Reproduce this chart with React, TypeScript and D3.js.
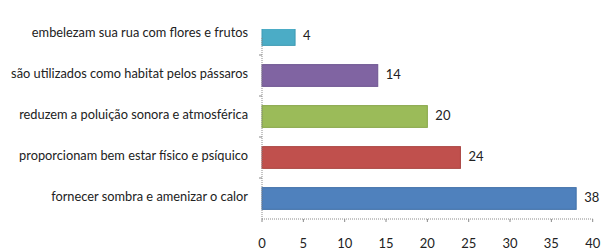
import React from "react";
import * as d3 from "d3";

const categories = [
  "embelezam sua rua com flores e frutos",
  "são utilizados como habitat pelos pássaros",
  "reduzem a poluição sonora e atmosférica",
  "proporcionam bem estar físico e psíquico",
  "fornecer sombra e amenizar o calor",
];
const values = [4, 14, 20, 24, 38];
const colors = ["#4bacc6", "#8064a2", "#9bbb59", "#c0504d", "#4f81bd"];
const strokes = ["#3e9ab3", "#6d5490", "#87a548", "#a94340", "#3f6fa8"];
const xTicks = [0, 5, 10, 15, 20, 25, 30, 35, 40];

export default function App() {
  const W = 615, H = 252;
  const x = d3.scaleLinear().domain([0, 40]).range([262, 592.7]);
  const y = d3.scaleBand().domain(categories).range([14, 219]).paddingInner(0.47).paddingOuter(0.235);
  const axisY = 219;
  const font = "Lato, 'Open Sans', sans-serif";
  return (
    <svg width={W} height={H} style={{ position: "absolute", left: 0, top: 0, background: "#fff" }}>
      <defs>
        <clipPath id="plot">
          <rect x={0} y={29} width={W} height={H - 29} />
        </clipPath>
      </defs>
      <g clipPath="url(#plot)">
        {categories.map((c, i) => (
          <rect key={c} x={x(0)} y={y(c)!} width={x(values[i]) - x(0)} height={y.bandwidth()}
            fill={colors[i]} stroke={strokes[i]} strokeWidth={1} />
        ))}
      </g>
      {/* y axis */}
      <line x1={x(0)} x2={x(0)} y1={38} y2={axisY} stroke="#8a8a8a" strokeDasharray="1,1" />
      {[1, 2, 3, 4].map((k) => {
        const yy = (y(categories[k])! - (y.step() - y.bandwidth()) / 2);
        return <line key={k} x1={x(0) - 3} x2={x(0)} y1={yy} y2={yy} stroke="#8a8a8a" />;
      })}
      {/* x axis */}
      <line x1={x(0)} x2={x(40)} y1={axisY} y2={axisY} stroke="#8a8a8a" strokeDasharray="1,1" />
      {xTicks.map((t) => (
        <g key={t}>
          <line x1={x(t)} x2={x(t)} y1={axisY} y2={axisY + 3} stroke="#8a8a8a" />
          <text x={x(t)} y={245} textAnchor="middle" dominantBaseline="middle" fontFamily={font} fontSize={13} fill="#222">{t}</text>
        </g>
      ))}
      {categories.map((c, i) => (
        <g key={"l" + c}>
          <text x={248} y={y(c)! + y.bandwidth() / 2 - 0.5} textAnchor="end" dominantBaseline="middle" fontFamily={font} fontSize={12.8} fill="#222">{c}</text>
          <text x={x(values[i]) + 8} y={y(c)! + y.bandwidth() / 2 + (i === 0 ? 2 : 0)} dominantBaseline="middle" fontFamily={font} fontSize={13} fill="#222">{values[i]}</text>
        </g>
      ))}
    </svg>
  );
}
